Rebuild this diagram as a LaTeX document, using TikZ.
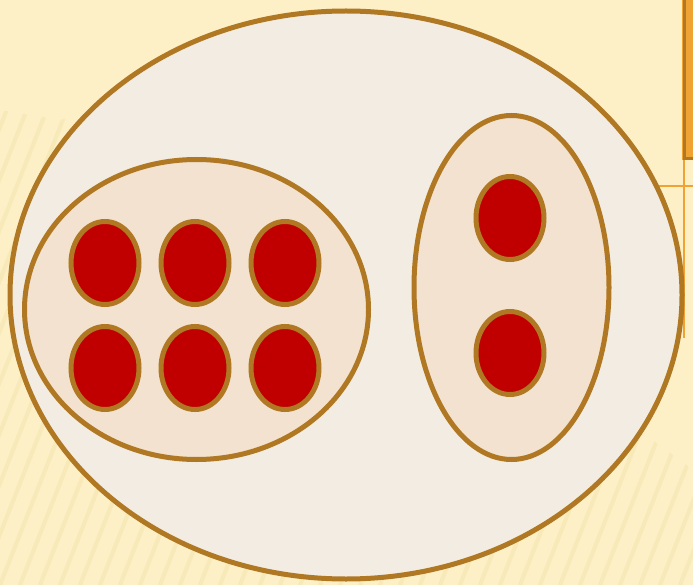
\documentclass[tikz,border=0pt]{standalone}
\usetikzlibrary{shapes.geometric}
\definecolor{bgc}{HTML}{FDF0C7}
\definecolor{stripec}{HTML}{EEDC9E}
\definecolor{strk}{HTML}{B07822}
\definecolor{outerfill}{HTML}{F3ECE2}
\definecolor{innerfill}{HTML}{F2E2CF}
\definecolor{redc}{HTML}{C00000}
\definecolor{barc}{HTML}{F0A232}
\tikzset{
  setshape/.style={ellipse, draw=strk, line width=5pt, inner sep=0pt},
  outerset/.style={setshape, fill=outerfill},
  innerset/.style={setshape, fill=innerfill},
  elem/.style={setshape, fill=redc, line width=5pt, minimum width=68pt, minimum height=83pt},
  stripe/.style={stripec, line width=4pt, opacity=0.35}
}
\begin{document}
\begin{tikzpicture}[x=1pt,y=-1pt]
\fill[bgc] (0,0) rectangle (693,585);
\useasboundingbox (0,0) rectangle (693,585);
% faint diagonal stripes
\begin{scope}
\clip (0,110) -- (60,120) -- (180,90) -- (693,470) -- (693,585) -- (0,585) -- cycle;
\foreach \i in {-300,-280,...,700}{
  \draw[stripe] (\i,585) -- (\i+230,0);
}
\end{scope}
% orange bar and thin lines at top right
\fill[barc] (682,0) rectangle (693,160);
\draw[strk, line width=3pt] (684,0) -- (684,158.5) -- (693,158.5);
\draw[barc, line width=2pt] (655,186) -- (693,186);
\draw[barc, line width=2pt] (684,160) -- (684,338);
% sets
\node[outerset, minimum width=672pt, minimum height=568pt] (U) at (346,295) {};
\node[innerset, minimum width=344pt, minimum height=300pt] (A) at (196.5,309.5) {};
\node[innerset, minimum width=195pt, minimum height=344pt] (B) at (511.5,287.5) {};
% elements
\node[elem] (a1) at (105,263) {};
\node[elem] (a2) at (195,263) {};
\node[elem] (a3) at (285,263) {};
\node[elem] (a4) at (105,368) {};
\node[elem] (a5) at (195,368) {};
\node[elem] (a6) at (285,368) {};
\node[elem] (b1) at (510,218) {};
\node[elem] (b2) at (510,353) {};
\end{tikzpicture}
\end{document}
